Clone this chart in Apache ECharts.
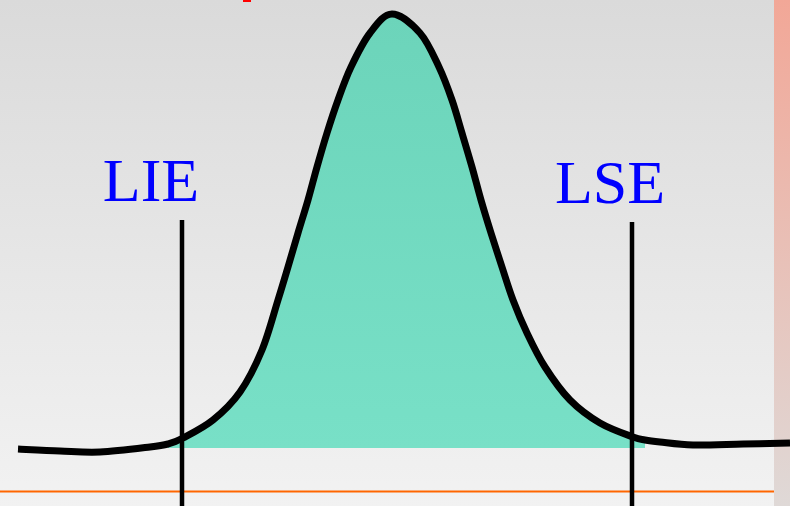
<!DOCTYPE html>
<html>
<head>
<meta charset="UTF-8">
<title>LIE LSE</title>
<script src="https://cdn.jsdelivr.net/npm/echarts@6/dist/echarts.min.js"></script>
<style>
  html, body { margin: 0; padding: 0; }
  #main { width: 790px; height: 506px; }
</style>
</head>
<body>
<div id="main"></div>
<script>
// curva normal (x en px, altura = 506 - y px)
var curveX = [18, 60, 100, 150, 168, 183, 213, 240, 262, 278, 288, 298, 308, 317, 327, 338, 351, 370, 392,
              420, 439, 452, 462, 472, 481, 491, 502, 513, 527, 545, 570, 600, 633, 645, 660, 693, 743, 790];
var curveY = [57, 55, 54, 59, 62, 68, 86, 114, 156, 206, 239, 273, 306, 339, 373, 406, 439, 473, 492,
              473, 439, 406, 373, 339, 306, 273, 239, 206, 173, 139, 106, 83, 69, 66, 64, 61, 62, 63];
// limites de especificacion
var limitNames = ['LIE', 'LSE'];
var limitX = [182, 632];
var limitTop = [286, 284];
var fillFrom = 168, fillTo = 645, fillBase = 58;

var curve = curveX.map(function (x, i) { return [x, curveY[i]]; });
var fill = curve.filter(function (p) { return p[0] >= fillFrom && p[0] <= fillTo; });

// trazo suave (catmull-rom) por los puntos ya pasados a pixeles
function splinePath(pts) {
    var d = 'M' + pts[0][0] + ' ' + pts[0][1];
    for (var i = 0; i < pts.length - 1; i++) {
        var p0 = pts[i - 1] || pts[i], p1 = pts[i], p2 = pts[i + 1], p3 = pts[i + 2] || pts[i + 1];
        var c1x = p1[0] + (p2[0] - p0[0]) / 6, c1y = p1[1] + (p2[1] - p0[1]) / 6;
        var c2x = p2[0] - (p3[0] - p1[0]) / 6, c2y = p2[1] - (p3[1] - p1[1]) / 6;
        d += ' C' + c1x + ' ' + c1y + ' ' + c2x + ' ' + c2y + ' ' + p2[0] + ' ' + p2[1];
    }
    return d;
}

var chart = echarts.init(document.getElementById('main'));

var series = [{
    type: 'custom',
    data: fill,
    z: 2,
    renderItem: function (params, api) {
        if (params.dataIndex !== 0) return null;
        var pts = fill.map(function (p) { return api.coord(p); });
        var base = api.coord([0, fillBase])[1];
        var d = splinePath(pts) + ' L' + pts[pts.length - 1][0] + ' ' + base + ' L' + pts[0][0] + ' ' + base + ' Z';
        return {
            type: 'path',
            shape: { pathData: d },
            style: {
                fill: new echarts.graphic.LinearGradient(0, 0, 0, 1, [
                    { offset: 0, color: '#6cd4ba' },
                    { offset: 1, color: '#78e0c7' }
                ]),
                stroke: null
            }
        };
    }
}];
limitX.forEach(function (x, i) {
    series.push({
        type: 'line',
        data: [[x, limitTop[i]], [x, 0]],
        symbol: 'none',
        lineStyle: { color: '#000', width: 4.5 },
        z: 3
    });
});
series.push({
    type: 'custom',
    data: curve,
    z: 4,
    renderItem: function (params, api) {
        if (params.dataIndex !== 0) return null;
        var pts = curve.map(function (p) { return api.coord(p); });
        return {
            type: 'path',
            shape: { pathData: splinePath(pts) },
            style: { fill: null, stroke: '#000', lineWidth: 7, lineJoin: 'round' }
        };
    }
});

var option = {
    animation: false,
    grid: { left: 0, right: 0, top: 0, bottom: 0 },
    xAxis: { type: 'value', min: 0, max: 790, show: false },
    yAxis: { type: 'value', min: 0, max: 506, show: false },
    graphic: [
        { type: 'rect', z: -10, silent: true, shape: { x: 0, y: 0, width: 774, height: 506 },
          style: { fill: new echarts.graphic.LinearGradient(0, 0, 0, 1, [
              { offset: 0, color: '#dadada' }, { offset: 1, color: '#f2f2f2' }]) } },
        { type: 'rect', z: -10, silent: true, shape: { x: 774, y: 0, width: 16, height: 506 },
          style: { fill: new echarts.graphic.LinearGradient(0, 0, 0, 1, [
              { offset: 0, color: '#f2a797' }, { offset: 1, color: '#dfd9d7' }]) } },
        { type: 'rect', z: -9, silent: true, shape: { x: 0, y: 490.5, width: 774, height: 2 },
          style: { fill: '#ff6600' } },
        { type: 'rect', z: -9, silent: true, shape: { x: 243, y: 0, width: 8, height: 2 },
          style: { fill: '#ff0000' } },
        { type: 'text', z: 10, x: 151, y: 216, style: { text: limitNames[0], fill: '#0000ff',
          font: '62px "Liberation Serif", "Times New Roman", serif', textAlign: 'center', textVerticalAlign: 'bottom' } },
        { type: 'text', z: 10, x: 610, y: 218, style: { text: limitNames[1], fill: '#0000ff',
          font: '62px "Liberation Serif", "Times New Roman", serif', textAlign: 'center', textVerticalAlign: 'bottom' } }
    ],
    series: series
};
chart.setOption(option);
</script>
</body>
</html>
